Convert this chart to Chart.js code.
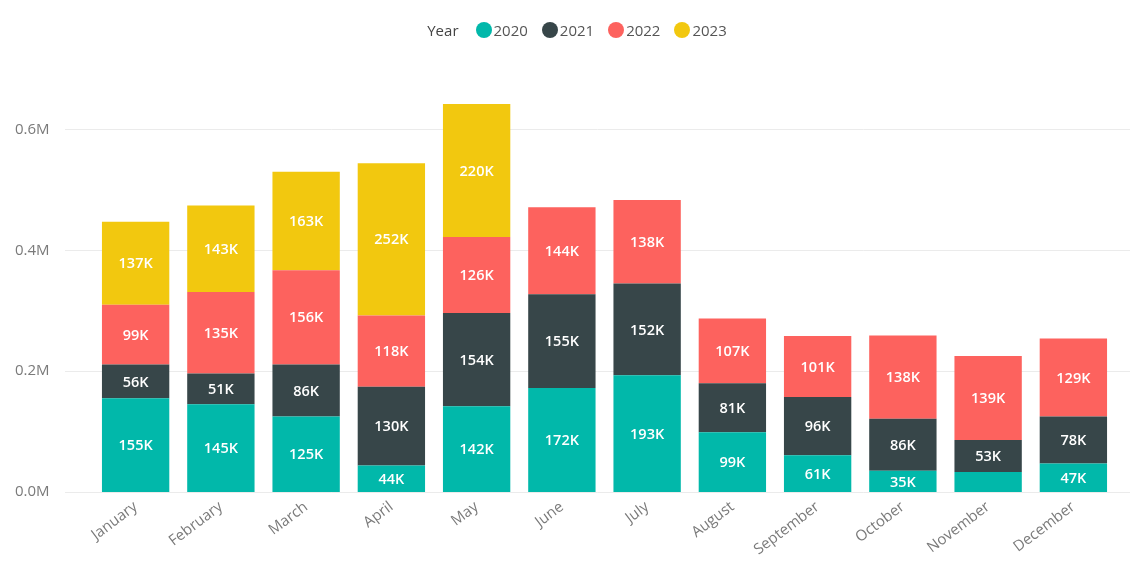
<!DOCTYPE html>
<html>
<head>
<meta charset="utf-8">
<script src="https://cdn.jsdelivr.net/npm/chart.js@4"></script>
<style>
  html, body { margin: 0; padding: 0; background: #fff; }
  #wrap { position: relative; width: 1134px; height: 565px; }
  #legend { position: absolute; top: 20px; left: 0; width: 1134px; display: flex; justify-content: center; align-items: center;
            font-family: "Open Sans", "Noto Sans", sans-serif; font-size: 15px; color: #555; padding-left: 20px; box-sizing: border-box; }
  #legend .title { color: #444; margin-right: 17px; }
  #legend .item { display: flex; align-items: center; margin-right: 14px; }
  #legend .item:last-child { margin-right: 0; }
  #legend .dot { width: 16px; height: 16px; border-radius: 50%; margin-right: 2px; }
  canvas { position: absolute; top: 0; left: 0; }
</style>
</head>
<body>
<div id="wrap">
  <canvas id="c" width="1134" height="565"></canvas>
  <div id="legend"></div>
</div>
<script>
const months = ["January","February","March","April","May","June","July","August","September","October","November","December"];
const seriesNames = ["2020","2021","2022","2023"];
const values2020 = [155,145,125,44,142,172,193,99,61,35,33,47];
const values2021 = [56,51,86,130,154,155,152,81,96,86,53,78];
const values2022 = [99,135,156,118,126,144,138,107,101,138,139,129];
const values2023 = [137,143,163,252,220,0,0,0,0,0,0,0];
const yTickValues = [0, 200000, 400000, 600000];
const hiddenLabels = [[0, 10]]; // [series index, month index] whose value label is not shown
const colors = ["#01B8AA","#374649","#FD625E","#F2C80F"];

const allValues = [values2020, values2021, values2022, values2023];

// HTML legend
const leg = document.getElementById('legend');
const t = document.createElement('span'); t.className = 'title'; t.textContent = 'Year'; leg.appendChild(t);
seriesNames.forEach((n, i) => {
  const it = document.createElement('span'); it.className = 'item';
  const d = document.createElement('span'); d.className = 'dot'; d.style.background = colors[i];
  const s = document.createElement('span'); s.textContent = n;
  it.appendChild(d); it.appendChild(s); leg.appendChild(it);
});

const datasets = seriesNames.map((n, i) => ({
  label: n,
  data: allValues[i].map(v => v * 1000),
  backgroundColor: colors[i],
  borderWidth: 0,
  barPercentage: 0.79,
  categoryPercentage: 1.0
}));

const gridPlugin = {
  id: 'wideGrid',
  beforeDatasetsDraw(chart) {
    const { ctx, chartArea, scales } = chart;
    ctx.save();
    ctx.strokeStyle = '#ebebeb';
    ctx.lineWidth = 1;
    scales.y.ticks.forEach(tk => {
      const y = Math.round(scales.y.getPixelForValue(tk.value)) + 0.5;
      ctx.beginPath();
      ctx.moveTo(chartArea.left - 28, y);
      ctx.lineTo(chartArea.right + 14, y);
      ctx.stroke();
    });
    ctx.restore();
  }
};

const labelPlugin = {
  id: 'segLabels',
  afterDatasetsDraw(chart) {
    const { ctx } = chart;
    ctx.save();
    ctx.font = '600 14.5px "Open Sans", "Noto Sans", sans-serif';
    ctx.fillStyle = '#ffffff';
    ctx.textAlign = 'center';
    ctx.textBaseline = 'middle';
    chart.data.datasets.forEach((ds, di) => {
      const meta = chart.getDatasetMeta(di);
      meta.data.forEach((el, i) => {
        const v = allValues[di][i];
        if (!v) return;
        if (hiddenLabels.some(h => h[0] === di && h[1] === i)) return;
        const p = el.getProps(['x', 'y', 'base'], true);
        ctx.fillText(Math.round(v) + 'K', p.x, (p.y + p.base) / 2 + 1);
      });
    });
    ctx.restore();
  }
};

new Chart(document.getElementById('c'), {
  type: 'bar',
  data: { labels: months, datasets },
  options: {
    responsive: false,
    animation: false,
    layout: { padding: { top: 81, left: 15, right: 18, bottom: 0 } },
    plugins: { legend: { display: false }, tooltip: { enabled: false } },
    scales: {
      x: {
        stacked: true,
        grid: { display: false, drawTicks: false },
        border: { display: false },
        afterFit(scale) { scale.height = 73; },
        ticks: {
          color: '#7a7a7a',
          font: { family: '"Open Sans", "Noto Sans", sans-serif', size: 15 },
          minRotation: 37, maxRotation: 37, padding: 6, autoSkip: false
        }
      },
      y: {
        stacked: true,
        min: 0,
        max: 680000,
        grid: { display: false },
        border: { display: false },
        afterFit(scale) { scale.width = 78; },
        afterBuildTicks(scale) { scale.ticks = yTickValues.map(v => ({ value: v })); },
        ticks: {
          color: '#7a7a7a',
          crossAlign: 'far',
          font: { family: '"Open Sans", "Noto Sans", sans-serif', size: 15 },
          callback: v => (v / 1000000).toFixed(1) + 'M'
        }
      }
    }
  },
  plugins: [gridPlugin, labelPlugin]
});
</script>
</body>
</html>
